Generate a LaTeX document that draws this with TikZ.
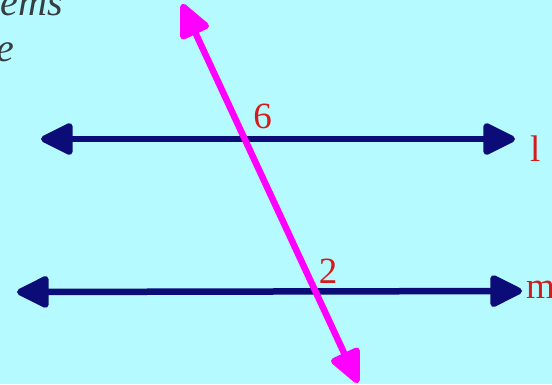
\documentclass[tikz,border=0pt]{standalone}
\usepackage{fontspec}
\setmainfont{Liberation Serif}
\usetikzlibrary{arrows.meta}
\definecolor{bgcyan}{RGB}{180,250,255}
\definecolor{navyline}{RGB}{12,12,120}
\definecolor{magline}{RGB}{255,0,255}
\definecolor{lblred}{RGB}{212,28,28}
\definecolor{titlegray}{RGB}{55,62,66}
\tikzset{
  parline/.style={draw=navyline, line width=6.5pt, {Triangle[length=36pt,width=34pt,round]}-{Triangle[length=36pt,width=34pt,round]}},
  transline/.style={draw=magline, line width=6.5pt, {Triangle[length=38pt,width=33pt,round]}-{Triangle[length=38pt,width=33pt,round]}},
  lbl/.style={text=lblred, font=\fontsize{37}{44}\selectfont, inner sep=0pt},
  ttl/.style={text=titlegray, font=\fontsize{40}{48}\selectfont\itshape, inner sep=0pt}
}
\begin{document}
\begin{tikzpicture}[x=1pt,y=-1pt]
\fill[bgcyan] (0,0) rectangle (552,384);
\useasboundingbox (0,0) rectangle (552,384);
% title fragments
\node[ttl, anchor=base east] (t1) at (63,15) {ems};
\node[ttl, anchor=base east] (t2) at (14,61) {e};
% end points
\coordinate (l1) at (41,139);
\coordinate (l2) at (515,139);
\coordinate (m1) at (17,292);
\coordinate (m2) at (522,291);
\coordinate (t1a) at (182,4);
\coordinate (t2a) at (358,383);
\draw[parline] (l1) -- (l2);
\draw[parline] (m1) -- (m2);
\draw[transline] (t1a) -- (t2a);
% labels
\node[lbl, anchor=base] (six) at (262.5,128) {6};
\node[lbl, anchor=base] (two) at (328,283) {2};
\node[lbl, anchor=base west] (ll) at (530,161) {l};
\node[lbl, anchor=base west] (mm) at (526,298) {m};
\end{tikzpicture}
\end{document}
